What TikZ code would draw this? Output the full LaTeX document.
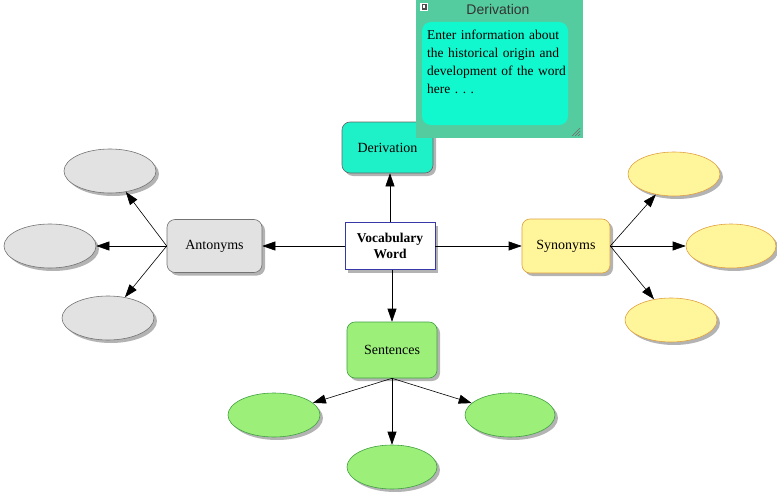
\documentclass[tikz,border=0pt]{standalone}
\usepackage{fontspec}
\setmainfont{Liberation Serif}
\newfontfamily\notesans{Liberation Sans}
\usetikzlibrary{shapes.geometric,shadows,arrows.meta}
\definecolor{cyanbox}{HTML}{1EF0C8}
\definecolor{notebg}{HTML}{55CC9F}
\definecolor{noteinner}{HTML}{12F8CE}
\definecolor{grayfill}{HTML}{E2E2E2}
\definecolor{yellowfill}{HTML}{FFF59A}
\definecolor{yellowline}{HTML}{E0A040}
\definecolor{greenfill}{HTML}{9CF07A}
\definecolor{greenline}{HTML}{40A040}
\definecolor{vwline}{HTML}{3838A8}
\tikzset{
  shad/.style={drop shadow={shadow xshift=3pt,shadow yshift=-3pt,fill=black!50,opacity=0.6}},
  topic/.style={draw,rounded corners=8pt,shad,minimum width=90pt,minimum height=52pt,
    font=\fontsize{14}{16}\selectfont,line width=0.6pt},
  oval/.style={ellipse,draw,shad,minimum width=92pt,minimum height=44pt,line width=0.6pt},
  arr/.style={-{Triangle[length=13pt,width=9pt]},line width=0.6pt},
}
\begin{document}
\begin{tikzpicture}[x=1pt,y=-1pt]
\useasboundingbox (0,0) rectangle (777,495);
% central node
\node[draw=vwline,fill=white,shad,line width=0.9pt,minimum width=90pt,minimum height=47pt,
  align=center,font=\fontsize{13.5}{16}\selectfont\bfseries] (vw) at (390,246) {Vocabulary\\Word};
% topics
\node[topic,fill=cyanbox,draw=black!60,minimum width=91pt,minimum height=51pt] (der) at (387.5,147.5) {Derivation};
\node[topic,fill=grayfill,draw=black!55,minimum width=95pt,minimum height=53pt] (ant) at (214.5,246) {Antonyms};
\node[topic,fill=yellowfill,draw=yellowline,minimum width=88pt,minimum height=54pt] (syn) at (566,246) {Synonyms};
\node[topic,fill=greenfill,draw=greenline,minimum width=90pt,minimum height=56pt] (sen) at (392,350) {Sentences};
% ellipses
\node[oval,fill=grayfill,draw=black!55] (a1) at (110,171) {};
\node[oval,fill=grayfill,draw=black!55] (a2) at (50,246) {};
\node[oval,fill=grayfill,draw=black!55] (a3) at (108,318) {};
\node[oval,fill=yellowfill,draw=yellowline] (s1) at (674,174) {};
\node[oval,fill=yellowfill,draw=yellowline,minimum width=90pt] (s2) at (731,246) {};
\node[oval,fill=yellowfill,draw=yellowline] (s3) at (671,320) {};
\node[oval,fill=greenfill,draw=greenline] (g1) at (274,415) {};
\node[oval,fill=greenfill,draw=greenline,minimum width=90pt] (g2) at (392,467) {};
\node[oval,fill=greenfill,draw=greenline,minimum width=90pt] (g3) at (510,415) {};
% connectors
\draw[arr] (vw.north) -- (vw.north |- der.south);
\draw[arr] (vw.west) -- (ant.east);
\draw[arr] (vw.east) -- (syn.west);
\draw[arr] (vw.south -| sen.north) -- (sen.north);
\draw[arr] (ant.west) -- (a1);
\draw[arr] (ant.west) -- (a2);
\draw[arr] (ant.west) -- (a3);
\draw[arr] (syn.east) -- (s1);
\draw[arr] (syn.east) -- (s2);
\draw[arr] (syn.east) -- (s3);
\draw[arr] (sen.south) -- (g1);
\draw[arr] (sen.south) -- (g2);
\draw[arr] (sen.south) -- (g3);
% note window
\fill[notebg] (416,0) rectangle (583,138);
\fill[noteinner,rounded corners=9pt] (422,22) rectangle (568,125);
\node[font=\notesans\fontsize{14}{16}\selectfont,text=black!80] (notetitle) at (498,9.5) {Derivation};
\fill[white] (420,3) rectangle (428,11);
\fill[black!70] (421.5,4.5) rectangle (427,10);
\fill[white] (422.5,5.5) rectangle (425,8);
\foreach \d in {0,3,6}{\draw[black!55,line width=0.7pt] (572+\d,136) -- (580,128+\d);}
\node[anchor=north west,align=left,inner sep=0pt,text width=140pt,
  font=\fontsize{13.5}{18}\selectfont] (notetext) at (427,30)
  {Enter information about the historical origin and development of the word here .\ .\ .};
\end{tikzpicture}
\end{document}
